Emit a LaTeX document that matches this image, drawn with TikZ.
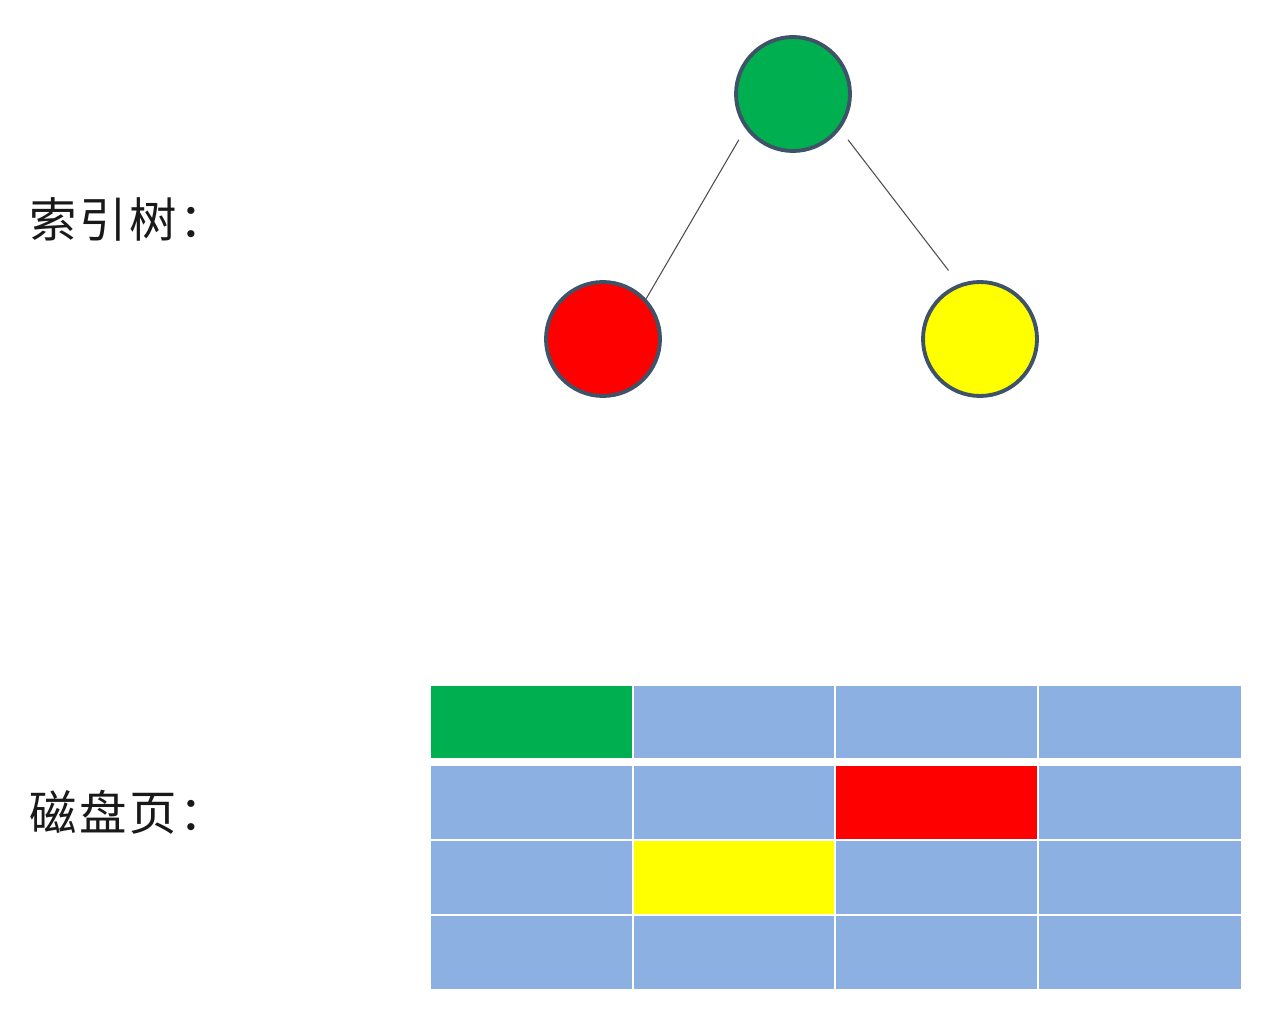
\documentclass[tikz,border=0pt]{standalone}
\usepackage{fontspec}
\setmainfont{Noto Sans CJK SC}
\usepackage{tikz}
\usetikzlibrary{calc}
\definecolor{treegreen}{RGB}{0,176,80}
\definecolor{treered}{RGB}{255,0,0}
\definecolor{treeyellow}{RGB}{255,255,0}
\definecolor{pageblue}{RGB}{141,176,226}
\definecolor{rimblue}{RGB}{62,82,104}

\begin{document}
\begin{tikzpicture}[x=0.02cm,y=-0.02cm,
  keynode/.style={circle,draw=rimblue,line width=2.2pt,minimum size=2.28cm,inner sep=0pt},
  edge/.style={draw=black!70,line width=0.6pt},
  label/.style={anchor=west,inner sep=0pt,font=\fontsize{27}{31}\selectfont,text=black!90}]
\useasboundingbox (0,0) rectangle (1280,1020);
\node[keynode,fill=treegreen] (root) at (793,94) {};
\node[keynode,fill=treered] (left) at (603,339) {};
\node[keynode,fill=treeyellow] (right) at (980,339) {};
\draw[edge,shorten <=0.26cm] (root.216.5)--(left.43);
\draw[edge,shorten <=0.26cm,shorten >=0.34cm] (root.323.5)--(right.111);
\node[label] (treetext) at (29,219) {索\kern1.5pt引\kern1.5pt树\kern1.5pt：};
\node[label] (pagetext) at (29,812) {磁\kern1.5pt盘\kern1.5pt页\kern1.5pt：};
\foreach \c/\xa/\xb in {0/431/632,1/634/834,2/836/1037,3/1039/1241}
  \foreach \r/\ya/\yb in {0/686/758,1/766/839,2/841/914,3/916/989}
    \fill[pageblue] (\xa,\ya) rectangle (\xb,\yb);
\fill[treegreen] (431,686) rectangle (632,758);
\fill[treered] (836,766) rectangle (1037,839);
\fill[treeyellow] (634,841) rectangle (834,914);
\end{tikzpicture}
\end{document}
